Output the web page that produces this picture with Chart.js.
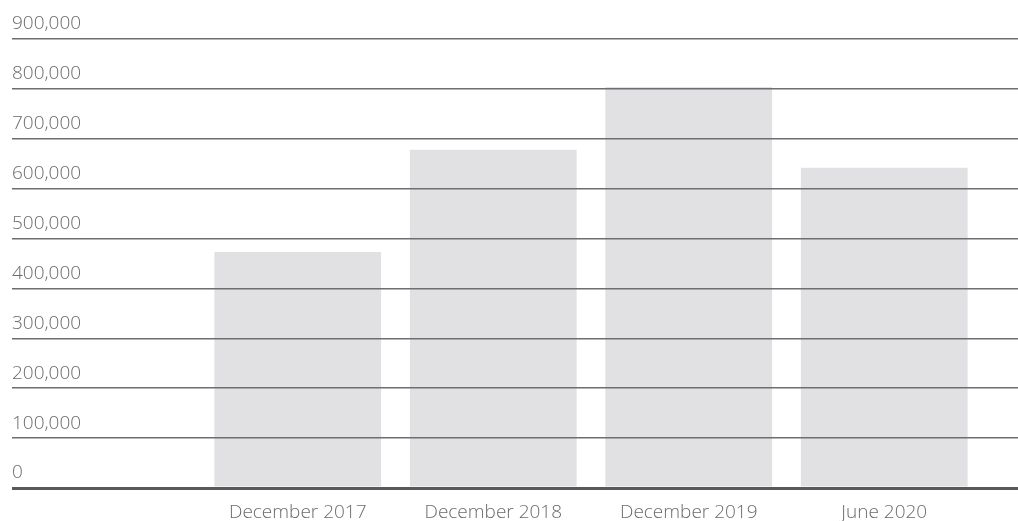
<!DOCTYPE html>
<html>
<head>
<meta charset="utf-8">
<script src="https://cdn.jsdelivr.net/npm/chart.js@4.4.1/dist/chart.umd.min.js"></script>
<style>
  html, body { margin: 0; padding: 0; background: #ffffff; }
  #wrap { width: 1018px; height: 521px; position: relative; }
</style>
</head>
<body>
<div id="wrap"><canvas id="barChart"></canvas></div>
<script>
// Chart data
const categories = ['December 2017', 'December 2018', 'December 2019', 'June 2020'];
const values = [473000, 678000, 804000, 642000];
const yTicks = [0, 100000, 200000, 300000, 400000, 500000, 600000, 700000, 800000, 900000];

const FONT = '"Open Sans", "Noto Sans", sans-serif';
const TEXT_COLOR = '#6a6b6e';
const GRID_COLOR = '#6d6e71';
const ZERO_COLOR = '#58595b';

const gridWidth = ctx => (ctx.tick && ctx.tick.value === 0 ? 3 : 1.5);
const gridColor = ctx => (ctx.tick && ctx.tick.value === 0 ? ZERO_COLOR : GRID_COLOR);

new Chart(document.getElementById('barChart'), {
    type: 'bar',
    data: {
        labels: categories,
        datasets: [{
            data: values,
            backgroundColor: '#e1e1e3',
            borderWidth: 0,
            barPercentage: 0.853,
            categoryPercentage: 1.0
        }]
    },
    options: {
        responsive: true,
        maintainAspectRatio: false,
        animation: false,
        layout: { padding: { left: 12, right: 0, top: 39, bottom: 0 } },
        plugins: {
            legend: { display: false },
            tooltip: { enabled: false }
        },
        scales: {
            x: {
                grid: { display: false },
                border: { display: false },
                ticks: {
                    color: TEXT_COLOR,
                    font: { family: FONT, size: 19, weight: 300 },
                    padding: 5,
                    maxRotation: 0
                },
                afterFit: scale => { scale.height = 33; }
            },
            y: {
                position: 'left',
                min: 0,
                max: 900000,
                afterBuildTicks: scale => { scale.ticks = yTicks.map(v => ({ value: v })); },
                afterFit: scale => { scale.width = 188; },
                border: { display: false },
                grid: {
                    z: 1,
                    color: gridColor,
                    lineWidth: gridWidth,
                    drawTicks: true,
                    tickLength: 188
                },
                ticks: {
                    crossAlign: 'far',
                    labelOffset: -15,
                    color: TEXT_COLOR,
                    font: { family: FONT, size: 19, weight: 300 },
                    callback: v => v.toLocaleString('en-US')
                }
            },
            y2: {
                position: 'right',
                min: 0,
                max: 900000,
                afterBuildTicks: scale => { scale.ticks = yTicks.map(v => ({ value: v })); },
                afterFit: scale => { scale.width = 36; },
                border: { display: false },
                grid: {
                    z: 1,
                    drawOnChartArea: false,
                    color: gridColor,
                    lineWidth: gridWidth,
                    drawTicks: true,
                    tickLength: 36
                },
                ticks: { display: false }
            }
        }
    }
});
</script>
</body>
</html>
